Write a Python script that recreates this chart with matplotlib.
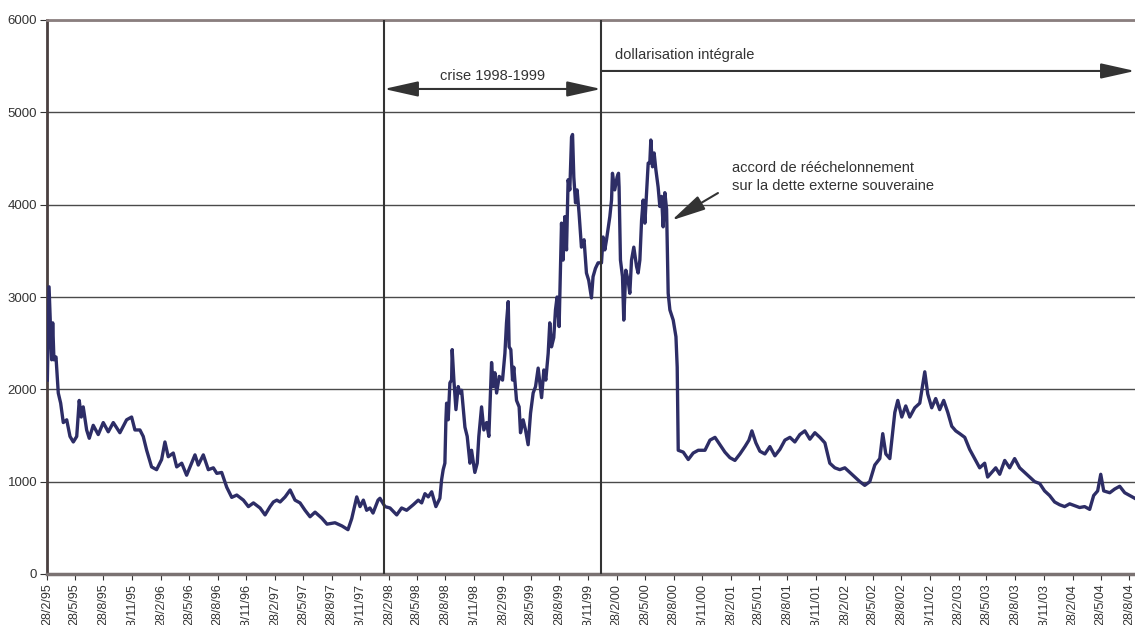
import datetime as dt
import numpy as np
import matplotlib.pyplot as plt
import matplotlib.dates as mdates

# spread series: decimal year -> value
years = [
    1995.162, 1995.177, 1995.200, 1995.209, 1995.220, 1995.238, 1995.258, 1995.279,
    1995.302, 1995.332, 1995.361, 1995.390, 1995.420, 1995.442, 1995.460, 1995.477,
    1995.507, 1995.530, 1995.565, 1995.609, 1995.653, 1995.697, 1995.741, 1995.799,
    1995.858, 1995.902, 1995.931, 1995.975, 1996.004, 1996.034, 1996.077, 1996.121,
    1996.165, 1996.194, 1996.223, 1996.267, 1996.297, 1996.341, 1996.384, 1996.457,
    1996.486, 1996.530, 1996.574, 1996.618, 1996.648, 1996.691, 1996.735, 1996.779,
    1996.823, 1996.881, 1996.925, 1996.969, 1997.027, 1997.071, 1997.115, 1997.144,
    1997.174, 1997.203, 1997.247, 1997.291, 1997.334, 1997.378, 1997.422, 1997.466,
    1997.510, 1997.569, 1997.615, 1997.685, 1997.747, 1997.799, 1997.832, 1997.876,
    1997.905, 1997.934, 1997.963, 1997.992, 1998.019, 1998.063, 1998.080, 1998.124,
    1998.168, 1998.227, 1998.270, 1998.314, 1998.372, 1998.416, 1998.446, 1998.475,
    1998.504, 1998.534, 1998.571, 1998.606, 1998.621, 1998.635, 1998.650, 1998.659,
    1998.665, 1998.679, 1998.694, 1998.709, 1998.714, 1998.729, 1998.747, 1998.767,
    1998.782, 1998.797, 1998.826, 1998.846, 1998.870, 1998.884, 1998.913, 1998.934,
    1998.948, 1998.972, 1998.992, 1999.016, 1999.036, 1999.060, 1999.074, 1999.089,
    1999.104, 1999.127, 1999.156, 1999.177, 1999.191, 1999.206, 1999.214, 1999.229,
    1999.244, 1999.255, 1999.279, 1999.302, 1999.314, 1999.337, 1999.358, 1999.381,
    1999.402, 1999.425, 1999.446, 1999.469, 1999.499, 1999.519, 1999.536, 1999.557,
    1999.571, 1999.586, 1999.606, 1999.621, 1999.635, 1999.653, 1999.674, 1999.688,
    1999.703, 1999.718, 1999.732, 1999.747, 1999.762, 1999.771, 1999.782, 1999.797,
    1999.811, 1999.828, 1999.849, 1999.872, 1999.893, 1999.913, 1999.937, 1999.951,
    1999.972, 1999.995, 2000.025, 2000.039, 2000.054, 2000.069, 2000.098, 2000.113,
    2000.121, 2000.141, 2000.162, 2000.174, 2000.179, 2000.191, 2000.209, 2000.220,
    2000.238, 2000.258, 2000.273, 2000.288, 2000.308, 2000.332, 2000.346, 2000.361,
    2000.376, 2000.390, 2000.405, 2000.420, 2000.434, 2000.448, 2000.457, 2000.472,
    2000.486, 2000.501, 2000.521, 2000.536, 2000.551, 2000.565, 2000.580, 2000.595,
    2000.609, 2000.624, 2000.653, 2000.677, 2000.688, 2000.697, 2000.741, 2000.785,
    2000.828, 2000.872, 2000.931, 2000.975, 2001.019, 2001.063, 2001.106, 2001.150,
    2001.194, 2001.238, 2001.282, 2001.317, 2001.343, 2001.378, 2001.413, 2001.457,
    2001.501, 2001.545, 2001.589, 2001.633, 2001.677, 2001.720, 2001.764, 2001.808,
    2001.852, 2001.896, 2001.940, 2001.984, 2002.027, 2002.071, 2002.115, 2002.159,
    2002.203, 2002.247, 2002.291, 2002.334, 2002.378, 2002.422, 2002.466, 2002.492,
    2002.519, 2002.554, 2002.598, 2002.624, 2002.659, 2002.694, 2002.729, 2002.773,
    2002.817, 2002.861, 2002.887, 2002.922, 2002.957, 2002.992, 2003.027, 2003.063,
    2003.098, 2003.133, 2003.168, 2003.212, 2003.255, 2003.299, 2003.343, 2003.387,
    2003.413, 2003.448, 2003.484, 2003.519, 2003.563, 2003.606, 2003.650, 2003.694,
    2003.738, 2003.782, 2003.826, 2003.870, 2003.913, 2003.957, 2004.001, 2004.045,
    2004.089, 2004.133, 2004.177, 2004.220, 2004.264, 2004.308, 2004.343, 2004.378,
    2004.405, 2004.431, 2004.484, 2004.527, 2004.571, 2004.615, 2004.659, 2004.703,
]
spread = [
    2100, 3110, 2320, 2720, 2320, 2350, 1960, 1850,
    1640, 1670, 1490, 1430, 1490, 1880, 1700, 1810,
    1560, 1470, 1610, 1510, 1640, 1540, 1640, 1530,
    1670, 1700, 1560, 1560, 1490, 1340, 1160, 1130,
    1240, 1430, 1270, 1310, 1160, 1200, 1070, 1290,
    1180, 1290, 1130, 1150, 1090, 1100, 940, 830,
    855, 800, 730, 770, 715, 640, 730, 780,
    800, 780, 835, 910, 800, 770, 690, 620,
    670, 605, 540, 555, 520, 480, 600, 835,
    730, 800, 690, 715, 660, 800, 820, 730,
    715, 640, 715, 690, 750, 800, 770, 870,
    835, 890, 730, 820, 1020, 1130, 1200, 1670,
    1850, 1670, 2070, 2100, 2430, 2100, 1780, 2030,
    1960, 1990, 1590, 1490, 1200, 1340, 1100, 1200,
    1490, 1810, 1560, 1640, 1490, 2290, 2030, 2180,
    1960, 2140, 2100, 2390, 2720, 2950, 2460, 2430,
    2100, 2240, 1880, 1810, 1530, 1670, 1560, 1400,
    1740, 1960, 2030, 2230, 1910, 2210, 2100, 2390,
    2720, 2460, 2560, 2860, 3000, 2680, 3800, 3400,
    3870, 3510, 4270, 4160, 4730, 4760, 4300, 4020,
    4160, 3910, 3540, 3620, 3260, 3180, 2990, 3220,
    3310, 3370, 3370, 3650, 3510, 3620, 3870, 4050,
    4340, 4160, 4300, 4340, 4190, 3400, 3220, 2750,
    3290, 3180, 3040, 3400, 3540, 3330, 3260, 3400,
    3830, 4050, 3800, 4130, 4450, 4450, 4700, 4410,
    4560, 4380, 4190, 3980, 4090, 3760, 4130, 3950,
    3040, 2860, 2750, 2570, 2240, 1340, 1320, 1240,
    1310, 1340, 1340, 1450, 1480, 1400, 1320, 1260,
    1230, 1300, 1380, 1450, 1550, 1420, 1330, 1300,
    1380, 1280, 1350, 1450, 1480, 1430, 1510, 1550,
    1460, 1530, 1480, 1420, 1200, 1150, 1130, 1150,
    1100, 1050, 1000, 960, 1000, 1180, 1250, 1520,
    1300, 1250, 1750, 1880, 1700, 1820, 1700, 1800,
    1850, 2190, 1950, 1800, 1900, 1780, 1880, 1750,
    1600, 1550, 1520, 1480, 1350, 1250, 1150, 1200,
    1050, 1100, 1150, 1080, 1230, 1150, 1250, 1150,
    1100, 1050, 1000, 980, 900, 850, 780, 750,
    730, 760, 740, 720, 730, 700, 850, 900,
    1080, 900, 880, 920, 950, 880, 850, 820,
]

crisis_start = dt.datetime(1998, 2, 12)
dollarisation = dt.datetime(2000, 1, 9)
accord_date = dt.datetime(2000, 8, 22)
accord_value = 3830


def to_date(y):
    yr = int(y)
    start = dt.datetime(yr, 1, 1)
    days = (dt.datetime(yr + 1, 1, 1) - start).days
    return start + dt.timedelta(days=(y - yr) * days)


dates = [to_date(y) for y in years]

plt.rcParams['font.family'] = ['Liberation Sans', 'DejaVu Sans']

fig = plt.figure(figsize=(11.35, 6.25), dpi=100)
ax = fig.add_axes([0.0414, 0.0816, 0.9586, 0.8864])

ax.plot(dates, spread, color='#2d2d66', lw=2.4, zorder=3)

ax.set_ylim(0, 6000)
ax.set_xlim(dt.datetime(1995, 2, 28), to_date(2004.705))
ax.set_yticks(range(0, 7000, 1000))
ax.yaxis.grid(True, color='#4a4a4a', lw=1)
ax.set_axisbelow(True)

ticks = []
for yr in range(1995, 2005):
    for m in (2, 5, 8, 11):
        d = dt.datetime(yr, m, 28)
        if d <= dt.datetime(2004, 8, 28):
            ticks.append(d)
ax.set_xticks(ticks)
ax.xaxis.set_major_formatter(mdates.DateFormatter('%d/%-m/%y'))
ax.tick_params(axis='x', labelrotation=90, labelsize=9, colors='#333333', length=4, pad=3)
ax.tick_params(axis='y', labelsize=9.5, colors='#333333', length=5, pad=2)

ax.spines['right'].set_visible(False)
ax.spines['top'].set_color('#8a7e7e')
ax.spines['top'].set_linewidth(2)
ax.spines['left'].set_color('#4a4040')
ax.spines['left'].set_linewidth(2)
ax.spines['bottom'].set_color('#7a7272')
ax.spines['bottom'].set_linewidth(2.5)

ax.axvline(crisis_start, color='#333333', lw=1.5, zorder=4)
ax.axvline(dollarisation, color='#333333', lw=1.5, zorder=4)

ap = dict(arrowstyle='<|-|>,head_length=2.1,head_width=0.47', color='#333333',
          lw=1.5, mutation_scale=10, shrinkA=0, shrinkB=0)
ax.annotate('', xy=(dollarisation, 5253), xytext=(crisis_start, 5253), arrowprops=ap)
ax.text(to_date(1999.07), 5394, 'crise 1998-1999', ha='center', va='center',
        fontsize=10.5, color='#333333')

ap2 = dict(arrowstyle='-|>,head_length=2.1,head_width=0.47', color='#333333',
           lw=1.5, mutation_scale=10, shrinkA=0, shrinkB=0)
ax.annotate('', xy=(1.0, 5448), xycoords=('axes fraction', 'data'),
            xytext=(dollarisation, 5448), textcoords='data', arrowprops=ap2)
ax.text(to_date(2000.14), 5621, 'dollarisation intégrale', ha='left', va='center',
        fontsize=10.5, color='#333333')

ax.annotate('', xy=(accord_date, accord_value), xytext=(to_date(2001.045), 4126),
            arrowprops=ap2)
ax.text(to_date(2001.168), 4300, 'accord de rééchelonnement\nsur la dette externe souveraine',
        ha='left', va='center', fontsize=10.5, color='#333333', linespacing=1.35)

fig.savefig('out.png', dpi=100)
